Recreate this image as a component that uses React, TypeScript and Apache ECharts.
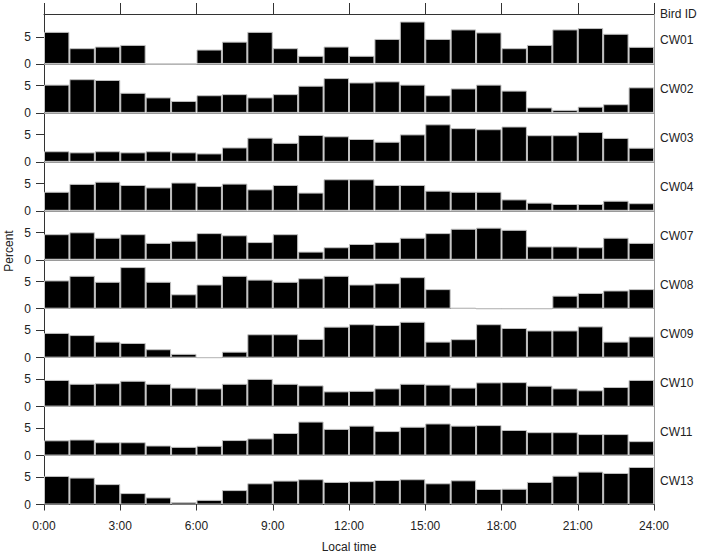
import React, { useEffect, useRef } from "react";
import * as echarts from "echarts";

// ---------- data ----------
const hourBins: string[] = [
  "0", "1", "2", "3", "4", "5", "6", "7", "8", "9", "10", "11",
  "12", "13", "14", "15", "16", "17", "18", "19", "20", "21", "22", "23",
];
const birdIds: string[] = ["CW01", "CW02", "CW03", "CW04", "CW07", "CW08", "CW09", "CW10", "CW11", "CW13"];

const cw01 = [5.9, 2.9, 3.2, 3.5, 0, 0, 2.65, 4.1, 5.9, 2.9, 1.5, 3.2, 1.5, 4.6, 7.8, 4.6, 6.35, 5.8, 2.9, 3.5, 6.35, 6.6, 5.55, 3.15];
const cw02 = [5.2, 6.2, 6.05, 3.7, 2.85, 2.2, 3.25, 3.45, 2.85, 3.45, 5.0, 6.4, 5.6, 5.8, 5.2, 3.25, 4.5, 5.2, 4.1, 1.0, 0.55, 1.15, 1.6, 4.7];
const cw03 = [1.95, 1.75, 1.95, 1.75, 1.95, 1.75, 1.55, 2.65, 4.45, 3.5, 4.95, 4.7, 4.2, 3.7, 5.05, 6.9, 6.2, 6.0, 6.5, 4.9, 4.9, 5.5, 4.4, 2.6];
const cw04 = [3.5, 4.95, 5.35, 4.75, 4.3, 5.2, 4.55, 5.0, 3.95, 4.75, 3.35, 5.8, 5.8, 4.75, 4.75, 3.7, 3.5, 3.5, 2.1, 1.5, 1.25, 1.25, 1.85, 1.4];
const cw07 = [4.7, 5.05, 4.05, 4.7, 3.1, 3.5, 4.9, 4.5, 3.25, 4.7, 1.5, 2.3, 2.9, 3.25, 4.05, 4.9, 5.7, 5.9, 5.5, 2.45, 2.45, 2.3, 4.05, 3.1];
const cw08 = [5.2, 6.05, 4.95, 7.65, 4.95, 2.65, 4.45, 6.05, 5.35, 4.95, 5.6, 6.05, 4.45, 4.7, 5.8, 3.6, 0.15, 0, 0, 0, 2.4, 2.9, 3.35, 3.6];
const cw09 = [4.55, 4.15, 2.95, 2.7, 1.55, 0.7, 0, 1.1, 4.3, 4.3, 3.45, 5.7, 6.15, 6.0, 6.6, 2.95, 3.4, 6.15, 5.45, 5.0, 5.0, 5.75, 2.95, 3.9];
const cw10 = [4.9, 4.2, 4.3, 4.75, 4.2, 3.5, 3.35, 4.2, 5.1, 4.2, 3.9, 2.8, 2.9, 3.35, 4.2, 4.05, 3.5, 4.45, 4.5, 3.85, 3.35, 3.0, 3.6, 4.9];
const cw11 = [2.8, 2.95, 2.45, 2.45, 1.85, 1.6, 1.8, 2.85, 3.15, 4.15, 6.25, 4.9, 5.5, 4.5, 5.3, 5.9, 5.5, 5.6, 4.7, 4.3, 4.3, 3.95, 3.95, 2.65];
const cw13 = [5.25, 4.95, 3.75, 2.1, 1.3, 0.45, 0.85, 2.65, 3.9, 4.4, 4.65, 4.15, 4.3, 4.5, 4.65, 3.9, 4.45, 2.85, 2.9, 4.15, 5.3, 6.05, 5.8, 6.9];

const panelValues: number[][] = [cw01, cw02, cw03, cw04, cw07, cw08, cw09, cw10, cw11, cw13];

const xTickLabels: string[] = ["0:00", "3:00", "6:00", "9:00", "12:00", "15:00", "18:00", "21:00", "24:00"];
const yTickValues: number[] = [0, 5];

// ---------- layout ----------
const W = 703;
const H = 555;
const PLOT_LEFT = 44;
const PLOT_RIGHT = 654;
const FIRST_TOP = 15;
const PANEL_H = 48.95;
const FONT = "'Liberation Sans', Arial, Helvetica, sans-serif";
const TEXT_COLOR = "#222";
const AXIS_DARK = "#333";
const AXIS_GRAY = "#9a9a9a";

function buildOption(): echarts.EChartsOption {
  const n = panelValues.length;
  const grids: any[] = [];
  const xAxes: any[] = [];
  const yAxes: any[] = [];
  const series: any[] = [];
  const graphics: any[] = [];

  for (let i = 0; i < n; i++) {
    const top = FIRST_TOP + i * PANEL_H;
    grids.push({ left: PLOT_LEFT, width: PLOT_RIGHT - PLOT_LEFT, top, height: PANEL_H, containLabel: false });
    xAxes.push({
      type: "category",
      gridIndex: i,
      data: hourBins,
      boundaryGap: true,
      position: "bottom",
      show: i < n - 1,
      axisLine: { show: true, onZero: false, lineStyle: { color: AXIS_GRAY, width: 1 } },
      axisTick: { show: false },
      axisLabel: { show: false },
      splitLine: { show: false },
    });
    yAxes.push({
      type: "value",
      gridIndex: i,
      min: 0,
      max: 9,
      interval: 5,
      position: "left",
      axisLine: { show: true, lineStyle: { color: AXIS_DARK, width: 1 } },
      axisTick: { show: true, length: 8, customValues: yTickValues, lineStyle: { color: AXIS_DARK } },
      axisLabel: {
        show: true,
        customValues: yTickValues,
        margin: 13,
        fontSize: 12,
        fontFamily: FONT,
        color: TEXT_COLOR,
      },
      splitLine: { show: false },
    });
    series.push({
      type: "bar",
      name: birdIds[i],
      xAxisIndex: i,
      yAxisIndex: i,
      data: panelValues[i],
      barWidth: "100%",
      barCategoryGap: "0%",
      silent: true,
      itemStyle: { color: "#000", borderColor: "#c2c2c2", borderWidth: 1 },
    });
    graphics.push({
      type: "text",
      left: 660,
      top: top + PANEL_H / 2 + 2 - 7,
      style: { text: birdIds[i], fontSize: 12, fontFamily: FONT, fill: TEXT_COLOR },
    });
  }
  // right border axes
  for (let i = 0; i < n; i++) {
    yAxes.push({
      type: "value",
      gridIndex: i,
      position: "right",
      min: 0,
      max: 9,
      axisLine: { show: true, lineStyle: { color: AXIS_GRAY, width: 1 } },
      axisTick: { show: false },
      axisLabel: { show: false },
      splitLine: { show: false },
    });
  }
  // top time axis (Bird ID strip)
  xAxes.push({
    type: "value",
    gridIndex: 0,
    position: "top",
    offset: 1,
    min: 0,
    max: 24,
    interval: 3,
    axisLine: { show: true, onZero: false, lineStyle: { color: AXIS_DARK, width: 1 } },
    axisTick: { show: true, length: 11, lineStyle: { color: AXIS_DARK } },
    axisLabel: { show: false },
    splitLine: { show: false },
  });
  // bottom time axis
  xAxes.push({
    type: "value",
    gridIndex: n - 1,
    position: "bottom",
    min: 0,
    max: 24,
    interval: 3,
    axisLine: { show: true, onZero: false, lineStyle: { color: AXIS_DARK, width: 1 } },
    axisTick: { show: true, length: 6, lineStyle: { color: AXIS_DARK } },
    axisLabel: {
      show: true,
      margin: 15,
      fontSize: 12,
      fontFamily: FONT,
      color: TEXT_COLOR,
      formatter: (v: number) => xTickLabels[Math.round(v / 3)] ?? "",
    },
    splitLine: { show: false },
  });

  graphics.push({
    type: "text",
    left: 660,
    top: 8,
    style: { text: "Bird ID", fontSize: 12, fontFamily: FONT, fill: TEXT_COLOR },
  });
  graphics.push({
    type: "text",
    x: 9,
    y: 251,
    rotation: Math.PI / 2,
    style: { text: "Percent", fontSize: 12, fontFamily: FONT, fill: TEXT_COLOR, align: "center", verticalAlign: "middle" },
  });
  graphics.push({
    type: "text",
    x: (PLOT_LEFT + PLOT_RIGHT) / 2,
    y: 547,
    style: { text: "Local time", fontSize: 12, fontFamily: FONT, fill: TEXT_COLOR, align: "center", verticalAlign: "middle" },
  });

  return {
    animation: false,
    backgroundColor: "#fff",
    grid: grids,
    xAxis: xAxes,
    yAxis: yAxes,
    series,
    graphic: graphics,
  } as echarts.EChartsOption;
}

export default function App() {
  const ref = useRef<HTMLDivElement>(null);
  useEffect(() => {
    if (!ref.current) return;
    const chart = echarts.init(ref.current, undefined, { renderer: "svg" });
    chart.setOption(buildOption());
    return () => chart.dispose();
  }, []);
  return <div ref={ref} style={{ position: "absolute", left: 0, top: 0, width: W, height: H }} />;
}
